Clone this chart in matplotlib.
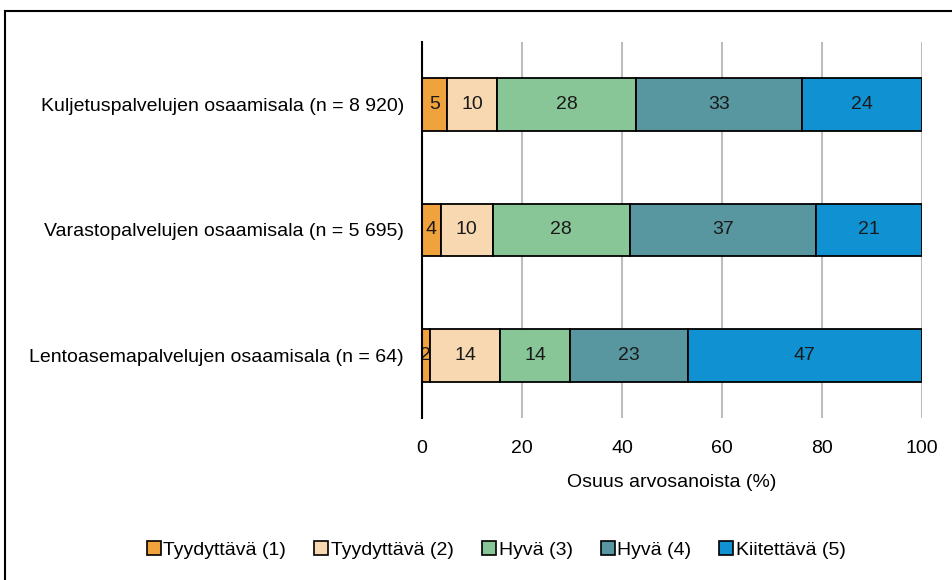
import matplotlib
matplotlib.use("Agg")
import matplotlib.pyplot as plt
from matplotlib.lines import Line2D

plt.rcParams['font.family'] = ['Liberation Sans', 'DejaVu Sans']

categories = ["Kuljetuspalvelujen osaamisala (n = 8 920)",
              "Varastopalvelujen osaamisala (n = 5 695)",
              "Lentoasemapalvelujen osaamisala (n = 64)"]
series_names = ["Tyydyttävä (1)", "Tyydyttävä (2)", "Hyvä (3)", "Hyvä (4)", "Kiitettävä (5)"]
colors = ["#F0A23C", "#F8D8B1", "#88C698", "#5896A0", "#1092D2"]
# share of grades (%) per category, per series
values = [
    [4.96, 3.72, 1.56],
    [10.1, 10.4, 14.06],
    [27.8, 27.5, 14.06],
    [33.2, 37.1, 23.44],
    [23.94, 21.28, 46.88],
]
labels = [
    [5, 4, 2],
    [10, 10, 14],
    [28, 28, 14],
    [33, 37, 23],
    [24, 21, 47],
]
xticks = [0, 20, 40, 60, 80, 100]
xlabel = "Osuus arvosanoista (%)"

FS = 14

fig = plt.figure(figsize=(9.53, 5.8), dpi=100)
ax = fig.add_axes([422/953, 1-418/580, 500/953, 376/580])

ypos = list(range(len(categories)))
left = [0.0]*len(categories)
for i, name in enumerate(series_names):
    bars = ax.barh(ypos, values[i], left=left, height=0.42, color=colors[i],
                   edgecolor='black', linewidth=1.3, label=name, zorder=3)
    for j, b in enumerate(bars):
        cx = left[j] + values[i][j]/2
        ax.text(cx, ypos[j], str(labels[i][j]), ha='center', va='center',
                fontsize=FS, color='#1a1a1a', zorder=4)
    left = [l + v for l, v in zip(left, values[i])]

ax.set_xlim(0, 100)
ax.set_ylim(2.5, -0.5)
ax.set_yticks(ypos)
ax.set_yticklabels(categories, fontsize=FS)
ax.set_xticks(xticks)
ax.set_xticklabels([str(t) for t in xticks], fontsize=FS)
ax.tick_params(axis='y', length=0, pad=13)
ax.tick_params(axis='x', length=0, pad=16)
ax.set_xlabel(xlabel, fontsize=FS, labelpad=12)
ax.xaxis.grid(True, color='#BDBDBD', linewidth=1.5, zorder=0)
ax.set_axisbelow(True)
for s in ['top', 'right', 'bottom']:
    ax.spines[s].set_visible(False)
ax.spines['left'].set_color('black')
ax.spines['left'].set_linewidth(1.5)
ax.spines['left'].set_zorder(5)

handles = [Line2D([0], [0], marker='s', linestyle='none', markersize=10,
                  markerfacecolor=c, markeredgecolor='black', markeredgewidth=1.2)
           for c in colors]
fig.legend(handles, series_names, loc='center', bbox_to_anchor=(495/953, 1-550/580),
           ncol=5, frameon=False, fontsize=FS, handletextpad=0.0, columnspacing=1.3,
           handlelength=1.0)

# outer frame
fig.add_artist(Line2D([5/953, 1], [1-11/580, 1-11/580], color='black', linewidth=1.5,
                      transform=fig.transFigure))
fig.add_artist(Line2D([5/953, 5/953], [0, 1-11/580], color='black', linewidth=1.5,
                      transform=fig.transFigure))

fig.savefig("out.png", dpi=100)
